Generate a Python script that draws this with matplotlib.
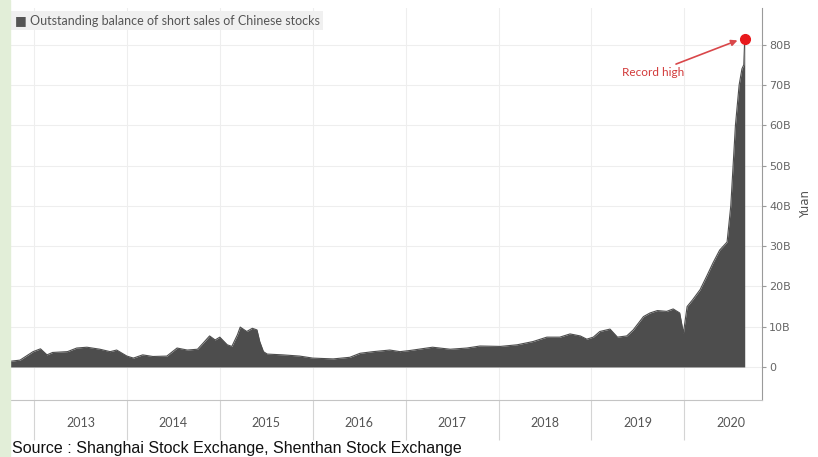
import numpy as np
import matplotlib.pyplot as plt
from matplotlib.patches import Rectangle

# outstanding short-sale balance, billion yuan (decimal year, value)
t = [2012.74, 2012.85, 2012.99, 2013.07, 2013.14, 2013.20, 2013.36, 2013.46,
     2013.57, 2013.71, 2013.82, 2013.89, 2014.00, 2014.07, 2014.17, 2014.28,
     2014.43, 2014.54, 2014.65, 2014.76, 2014.82, 2014.89, 2014.95, 2015.00,
     2015.08, 2015.13, 2015.19, 2015.22, 2015.29, 2015.35, 2015.40, 2015.43,
     2015.47, 2015.51, 2015.68, 2015.86, 2016.00, 2016.22, 2016.40, 2016.51,
     2016.65, 2016.83, 2016.94, 2017.05, 2017.08, 2017.29, 2017.48, 2017.66,
     2017.80, 2018.02, 2018.20, 2018.37, 2018.52, 2018.66, 2018.77, 2018.88,
     2018.95, 2019.02, 2019.09, 2019.20, 2019.28, 2019.38, 2019.45, 2019.56,
     2019.63, 2019.71, 2019.81, 2019.88, 2019.95, 2019.99, 2020.03, 2020.09,
     2020.17, 2020.24, 2020.31, 2020.38, 2020.46, 2020.50, 2020.55, 2020.59,
     2020.62, 2020.64, 2020.65]
bal = [1.4, 1.7, 3.8, 4.5, 3.0, 3.6, 3.8, 4.7,
       4.9, 4.4, 3.8, 4.2, 2.7, 2.2, 3.0, 2.6,
       2.7, 4.7, 4.2, 4.4, 5.9, 7.7, 6.7, 7.4,
       5.5, 5.1, 8.0, 9.9, 8.8, 9.6, 9.2, 6.3,
       3.8, 3.2, 3.0, 2.7, 2.2, 2.0, 2.4, 3.4,
       3.8, 4.2, 3.8, 4.1, 4.2, 4.9, 4.4, 4.7,
       5.2, 5.1, 5.5, 6.3, 7.4, 7.4, 8.2, 7.7,
       6.9, 7.4, 8.8, 9.4, 7.4, 7.7, 9.2, 12.5,
       13.4, 14.0, 13.8, 14.4, 13.4, 8.4, 15.0, 16.7,
       19.2, 22.5, 25.9, 29.0, 31.0, 40.0, 60.0, 70.0,
       74.0, 75.0, 81.5]

years = [2013, 2014, 2015, 2016, 2017, 2018, 2019, 2020]
yticks = [0, 10, 20, 30, 40, 50, 60, 70, 80]
ylabels = ['0'] + ['%dB' % v for v in yticks[1:]]

fig = plt.figure(figsize=(8.18, 4.57), dpi=100)
fig.patches.append(Rectangle((0, 0), 10 / 818, 1, transform=fig.transFigure,
                             color='#e2eed8', zorder=0))

ax = fig.add_axes([10 / 818, 1 - 400 / 457, 752 / 818, 392 / 457])
ax.set_xlim(2012.742, 2020.836)
ax.set_ylim(-8.2, 89.1)

ax.fill_between(t, 0, bal, color='#4d4d4d', lw=0, zorder=3)
ax.plot(t, bal, color='#4d4d4d', lw=0.8, zorder=3)

# record high
ax.plot(t[-1], bal[-1], 'o', color='#e8191c', ms=7, zorder=5)
ax.annotate('Record high', xy=(t[-1] - 0.05, bal[-1] - 0.2),
            xytext=(2020.0, 73.0), color='#d23a3a', fontsize=8.5,
            ha='right', va='center', family='Lato',
            arrowprops=dict(arrowstyle='-|>', color='#d9474a', lw=1.2,
                            mutation_scale=9, shrinkA=1, shrinkB=2))

# legend box
ax.text(0.006, 0.968, '■ Outstanding balance of short sales of Chinese stocks',
        transform=ax.transAxes, fontsize=9, color='#555555', va='center',
        family=['Lato', 'DejaVu Sans'],
        bbox=dict(boxstyle='square,pad=0.3', fc='#f0f0f0', ec='none'))

# axes styling
for s in ['top', 'left']:
    ax.spines[s].set_visible(False)
ax.spines['right'].set_color('#9a9a9a')
ax.spines['bottom'].set_color('#c4c4c4')

ax.yaxis.tick_right()
ax.set_yticks(yticks)
ax.set_yticklabels(ylabels)
ax.tick_params(axis='y', length=3, width=0.8, color='#9a9a9a',
               labelcolor='#666666', labelsize=8, pad=2)
ax.yaxis.set_label_position('right')
ax.set_ylabel('Yuan', rotation=90, fontsize=8.5, color='#555555', labelpad=6)

ax.set_xticks(years)
ax.set_xticklabels([])
ax.set_xticks([y + 0.5 for y in years], minor=True)
ax.set_xticklabels([str(y) for y in years], minor=True, family='Lato',
                   fontsize=9, color='#555555')
ax.tick_params(axis='x', which='major', length=29, width=0.8, color='#d4d4d4')
ax.tick_params(axis='x', which='minor', length=0, pad=12)

ax.grid(axis='both', which='major', color='#eeeeee', lw=0.8, zorder=0)
ax.set_axisbelow(True)

fig.text(12 / 818, 1 - 449 / 457, 'Source : Shanghai Stock Exchange, Shenthan Stock Exchange',
         fontsize=11.5, family=['Liberation Sans', 'DejaVu Sans'],
         color='#111111', va='center')

fig.savefig('out.png', dpi=100)
